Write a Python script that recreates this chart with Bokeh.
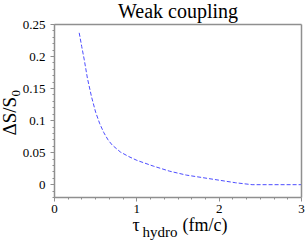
import numpy as np
from bokeh.plotting import figure
from bokeh.models import Range1d, FixedTicker, Label, LinearAxis
from bokeh.embed import file_html
from bokeh.resources import INLINE

# data
tau_hydro = [0.30, 0.33, 0.36, 0.40, 0.45, 0.50, 0.55, 0.60, 0.65, 0.70, 0.80, 0.90,
             1.00, 1.20, 1.40, 1.60, 1.80, 2.00, 2.20, 2.40, 2.60, 2.80, 3.00]
delta_s = [0.237, 0.216, 0.196, 0.166, 0.137, 0.113, 0.095, 0.081, 0.070, 0.062, 0.051, 0.044,
           0.038, 0.029, 0.021, 0.015, 0.011, 0.007, 0.003, 0.0, 0.0, 0.0, 0.0]

x_lo, x_hi = 0.0, 3.0
y_lo, y_hi = -0.02, 0.25
x_ticks = [0, 1, 2, 3]
x_tick_labels = ["0", "1", "2", "3"]
y_ticks = [0, 0.05, 0.1, 0.15, 0.2, 0.25]
y_tick_labels = ["0", "0.05", "0.1", "0.15", "0.2", "0.25"]

title_text = "Weak coupling"

SERIF = "Liberation Serif"
GRAY = "#8f8f8f"

# canvas and inner plot box (pixels)
CW, CH = 305, 240
BL, BR, BT, BB = 54, 301, 24, 197

kx = (BR - BL) / (x_hi - x_lo)
ky = (BB - BT) / (y_hi - y_lo)
xr = Range1d(x_lo - BL / kx, x_hi + (CW - BR) / kx)
yr = Range1d(y_lo - (CH - BB) / ky, y_hi + BT / ky)

p = figure(width=CW, height=CH, output_backend="svg", toolbar_location=None,
           x_range=xr, y_range=yr, x_axis_type=None, y_axis_type=None,
           min_border=0, min_border_left=0, min_border_right=0,
           min_border_top=0, min_border_bottom=0)
p.outline_line_color = None
p.background_fill_color = "white"
p.border_fill_color = "white"

p.line(tau_hydro, delta_s, line_color="#4d4dff", line_width=1, line_dash="4 2")

x_minor = [i / 6 for i in range(0, 19) if i % 6 != 0]
y_minor = [round(-0.02 + 0.01 * i, 3) for i in range(0, 28)]

xaxis = LinearAxis(fixed_location=y_lo, bounds=(x_lo, x_hi),
                   ticker=FixedTicker(ticks=x_ticks, minor_ticks=x_minor),
                   major_label_overrides={t: l for t, l in zip(x_ticks, x_tick_labels)})
yaxis = LinearAxis(fixed_location=x_lo, bounds=(y_lo, y_hi),
                   ticker=FixedTicker(ticks=y_ticks, minor_ticks=y_minor),
                   major_label_overrides={t: l for t, l in zip(y_ticks, y_tick_labels)})
# plain top and right box edges
top_axis = LinearAxis(fixed_location=y_hi, bounds=(x_lo, x_hi), ticker=FixedTicker(ticks=[]),
                      major_label_text_alpha=0, major_tick_line_color=None, minor_tick_line_color=None)
right_axis = LinearAxis(fixed_location=x_hi, bounds=(y_lo, y_hi), ticker=FixedTicker(ticks=[]),
                        major_label_text_alpha=0, major_tick_line_color=None, minor_tick_line_color=None)
for ax in (xaxis, yaxis, top_axis, right_axis):
    ax.axis_line_color = GRAY
    ax.axis_line_width = 1.5
for ax in (xaxis, yaxis):
    ax.major_tick_line_color = GRAY
    ax.minor_tick_line_color = GRAY
    ax.major_tick_in = 0
    ax.major_tick_out = 4
    ax.minor_tick_in = 0
    ax.minor_tick_out = 2
    ax.major_label_text_font = SERIF
    ax.major_label_text_font_size = "13px"
    ax.major_label_text_color = "black"
xaxis.major_label_standoff = 3
yaxis.major_label_standoff = 5
p.add_layout(xaxis, "below")
p.add_layout(yaxis, "left")
p.add_layout(top_axis, "above")
p.add_layout(right_axis, "right")

def lab(wx, wy, text, size, **kw):
    # wx, wy: pixel position from the top-left of the canvas
    p.add_layout(Label(x=wx, y=CH - wy, x_units="screen", y_units="screen", text=text,
                       text_font=SERIF, text_font_size=size, text_color="black", **kw))

# title
lab((BL + BR) / 2, 10, title_text, "20px", text_align="center", text_baseline="alphabetic")

# x label: tau_hydro (fm/c)
lab(132, 224, "τ", "18px", text_align="left", text_baseline="alphabetic")
lab(142, 231, "hydro", "15px", text_align="left", text_baseline="alphabetic")
lab(182, 224, "(fm/c)", "18px", text_align="left", text_baseline="alphabetic")

# y label: ΔS/S0, rotated
lab(9, 135, "ΔS/S", "19px", angle=np.pi / 2, text_align="left", text_baseline="alphabetic")
lab(15, 96, "0", "13px", angle=np.pi / 2, text_align="left", text_baseline="alphabetic")

open("out.html", "w").write(file_html(p, INLINE))
